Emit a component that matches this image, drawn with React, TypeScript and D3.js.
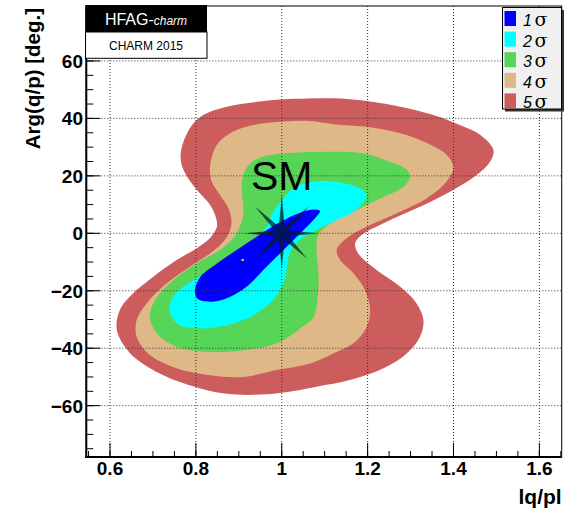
import React from "react";
import * as d3 from "d3";

// ---------- data ----------
const X_TICKS = [0.6, 0.8, 1, 1.2, 1.4, 1.6];
const X_TICK_LABELS = ["0.6", "0.8", "1", "1.2", "1.4", "1.6"];
const Y_TICKS = [-60, -40, -20, 0, 20, 40, 60];
const Y_TICK_LABELS = ["\u221260", "\u221240", "\u221220", "0", "20", "40", "60"];
const X_MINOR = d3.range(0.55, 1.651, 0.05);
const Y_MINOR = d3.range(-75, 76, 5);

const SIGMA_LABELS = ["1", "2", "3", "4", "5"];
const SIGMA_COLORS = ["#0000ff", "#00ffff", "#57d557", "#deb887", "#cd5c5c"];

// contour boundaries [|q/p|, Arg(q/p) deg]
const SIGMA5: [number, number][] = [
  [0.765, 28.4], [0.786, 36.6], [0.817, 41.2], [0.872, 44.1], [0.949, 45.9], [1.027, 46.8],
  [1.12, 47.0], [1.198, 46.1], [1.276, 44.1], [1.353, 41.2], [1.415, 37.7], [1.462, 34.3],
  [1.493, 29.0], [1.485, 24.9], [1.454, 20.3], [1.392, 14.5], [1.314, 8.7], [1.237, 3.5],
  [1.186, -0.6], [1.171, -3.5], [1.178, -7.0], [1.221, -12.8], [1.276, -18.6], [1.314, -24.4],
  [1.33, -30.2], [1.322, -36.0], [1.291, -41.8], [1.237, -47.0], [1.159, -51.1], [1.081, -53.4],
  [0.996, -55.6], [0.903, -56.2], [0.833, -54.9], [0.763, -51.8], [0.716, -48.8], [0.647, -41.8],
  [0.616, -33.7], [0.623, -26.7], [0.654, -20.9], [0.701, -15.1], [0.755, -9.3], [0.802, -5.2],
  [0.833, -1.6], [0.849, 2.3], [0.847, 5.3], [0.833, 9.9], [0.806, 14.5], [0.782, 19.2], [0.767, 23.8],
];
const SIGMA4: [number, number][] = [
  [0.833, 23.1], [0.849, 30.8], [0.887, 35.4], [0.934, 37.7], [1.004, 38.9], [1.066, 39.1],
  [1.12, 38.0], [1.198, 37.1], [1.276, 34.8], [1.338, 31.4], [1.384, 27.3], [1.4, 23.2],
  [1.384, 18.0], [1.338, 12.2], [1.276, 7.5], [1.198, 2.3], [1.151, -1.7], [1.128, -5.8],
  [1.136, -9.3], [1.167, -13.9], [1.194, -19.8], [1.206, -26.7], [1.198, -32.5], [1.167, -38.3],
  [1.12, -41.8], [1.066, -45.3], [0.988, -47.6], [0.911, -50.0], [0.833, -49.4], [0.755, -47.0],
  [0.693, -42.4], [0.662, -36.0], [0.662, -30.2], [0.685, -24.4], [0.732, -17.4], [0.786, -11.6],
  [0.833, -7.0], [0.861, -3.4], [0.877, 0.1], [0.883, 4.0], [0.876, 8.7], [0.856, 13.3], [0.837, 18.0],
];
const SIGMA3: [number, number][] = [
  [0.907, 17.5], [0.918, 22.8], [0.942, 25.9], [0.988, 27.5], [1.074, 28.3], [1.19, 27.8],
  [1.252, 24.9], [1.291, 22.1], [1.299, 19.7], [1.283, 16.1], [1.237, 12.6], [1.182, 8.7],
  [1.12, 4.0], [1.085, -0.6], [1.081, -5.8], [1.085, -12.8], [1.085, -19.8], [1.074, -29.1],
  [1.043, -33.1], [0.988, -38.3], [0.911, -40.7], [0.833, -41.3], [0.755, -39.5], [0.709, -34.8],
  [0.693, -29.1], [0.705, -23.2], [0.747, -16.3], [0.802, -10.5], [0.856, -5.8], [0.887, -1.6],
  [0.903, 2.5], [0.911, 7.1], [0.909, 11.6],
];
const SIGMA2: [number, number][] = [
  [1.043, 16.8], [1.081, 18.1], [1.136, 17.7], [1.182, 15.7], [1.198, 13.2], [1.189, 10.6],
  [1.167, 7.5], [1.12, 4.0], [1.074, 0.6], [1.036, -3.0], [1.017, -7.6], [1.012, -12.1],
  [1.004, -17.4], [0.98, -23.2], [0.934, -28.5], [0.872, -32.0], [0.81, -33.1], [0.763, -32.0],
  [0.74, -27.9], [0.74, -24.3], [0.758, -20.1], [0.794, -16.3], [0.849, -11.6], [0.903, -6.5],
  [0.942, -2.0], [0.965, 2.5], [0.98, 7.5], [1.004, 12.2], [1.022, 15.1],
];
const SIGMA1: [number, number][] = [
  [1.089, 7.8], [1.08, 5.7], [1.043, 0.0], [0.996, -7.0], [0.957, -12.8], [0.918, -18.6],
  [0.872, -22.6], [0.833, -23.8], [0.803, -22.7], [0.798, -19.8], [0.81, -15.2], [0.849, -10.5],
  [0.895, -5.8], [0.934, -2.0], [0.996, 3.9], [1.043, 7.2], [1.074, 8.3],
];
const CONTOURS = [SIGMA5, SIGMA4, SIGMA3, SIGMA2, SIGMA1];
const CONTOUR_COLORS = ["#cd5c5c", "#deb887", "#57d557", "#00ffff", "#0000ff"];

const SM_POINT: [number, number] = [1, 0];
const BEST_FIT: [number, number] = [0.909, -9.3];

// ---------- layout ----------
const W = 568, H = 518;
const FL = 86.3, FR = 561.7, FT = 6, FB = 457;
const FONT = "'Liberation Sans', Arial, Helvetica, sans-serif";

export default function App() {
  const x = d3.scaleLinear().domain([0.5448, 1.652]).range([FL, FR]);
  const y = d3.scaleLinear().domain([-77.87, 79.13]).range([FB, FT]);
  const line = d3
    .line<[number, number]>()
    .x((d) => x(d[0]))
    .y((d) => y(d[1]))
    .curve(d3.curveCatmullRomClosed.alpha(0.5));

  const cx = x(SM_POINT[0]), cy = y(SM_POINT[1]);
  const outer = [38, 38, 36, 36, 35, 36, 37, 38];
  const starPts: string[] = [];
  for (let i = 0; i < 16; i++) {
    const a = (i * Math.PI) / 8 - Math.PI / 2;
    const r = i % 2 === 0 ? outer[i / 2] : 7.5;
    starPts.push(`${cx + r * Math.cos(a)},${cy + r * Math.sin(a)}`);
  }

  return (
    <svg
      width={W}
      height={H}
      style={{ position: "absolute", left: 0, top: 0, background: "#fff" }}
      fontFamily={FONT}
    >
      <rect x={0} y={0} width={W} height={H} fill="#fff" />
      {CONTOURS.map((c, i) => (
        <path key={i} d={line(c) || ""} fill={CONTOUR_COLORS[i]} stroke="none" />
      ))}
      <rect x={x(BEST_FIT[0]) - 1} y={y(BEST_FIT[1]) - 1} width={2} height={2} fill="#ffff00" />

      {/* grid */}
      {X_TICKS.map((t) => (
        <line key={"gx" + t} x1={x(t)} x2={x(t)} y1={FT} y2={FB} stroke="#333" strokeWidth={1} strokeDasharray="1,2" />
      ))}
      {Y_TICKS.map((t) => (
        <line key={"gy" + t} x1={FL} x2={FR} y1={y(t)} y2={y(t)} stroke="#333" strokeWidth={1} strokeDasharray="1,2" />
      ))}

      {/* SM star */}
      <polygon points={starPts.join(" ")} fill="#001a22" fillOpacity={0.72} />
      <text x={cx} y={190} fontSize={41} textAnchor="middle" fill="#000">SM</text>

      {/* frame */}
      <rect x={FL} y={FT} width={FR - FL} height={FB - FT} fill="none" stroke="#000" strokeWidth={1} />
      <line x1={FL} x2={FL} y1={FT} y2={FB + 1} stroke="#000" strokeWidth={2} />
      <line x1={FL - 1} x2={FR} y1={FB} y2={FB} stroke="#000" strokeWidth={2} />

      {/* ticks */}
      {X_TICKS.map((t) => (
        <line key={"tx" + t} x1={x(t)} x2={x(t)} y1={FB} y2={FB - 14} stroke="#000" strokeWidth={1} />
      ))}
      {X_MINOR.map((t, i) => (
        <line key={"mx" + i} x1={x(t)} x2={x(t)} y1={FB} y2={FB - 6} stroke="#000" strokeWidth={1} />
      ))}
      {Y_TICKS.map((t) => (
        <line key={"ty" + t} x1={FL} x2={FL + 14} y1={y(t)} y2={y(t)} stroke="#000" strokeWidth={1} />
      ))}
      {Y_MINOR.map((t, i) => (
        <line key={"my" + i} x1={FL} x2={FL + 7} y1={y(t)} y2={y(t)} stroke="#000" strokeWidth={1} />
      ))}

      {/* tick labels */}
      {X_TICKS.map((t, i) => (
        <text key={"lx" + t} x={x(t)} y={474.5} fontSize={19} fontWeight="bold" textAnchor="middle">
          {X_TICK_LABELS[i]}
        </text>
      ))}
      {Y_TICKS.map((t, i) => (
        <text key={"ly" + t} x={83} y={y(t) + 7} fontSize={19} fontWeight="bold" textAnchor="end">
          {Y_TICK_LABELS[i]}
        </text>
      ))}

      {/* axis titles */}
      <text x={561.7} y={503.5} fontSize={21} fontWeight="bold" textAnchor="end">lq/pl</text>
      <text transform="translate(39.5,8) rotate(-90)" fontSize={20.5} fontWeight="bold" textAnchor="end">
        Arg(q/p) [deg.]
      </text>

      {/* HFAG box */}
      <rect x={85.5} y={5} width={121.5} height={27} fill="#000" />
      <rect x={85.5} y={32} width={121.5} height={26.3} fill="#fff" stroke="#000" strokeWidth={1} />
      <text x={146} y={25} fontSize={16} fill="#fff" textAnchor="middle">
        HFAG-<tspan fontStyle="italic" fontSize={12}>charm</tspan>
      </text>
      <text x={146} y={50} fontSize={12} textAnchor="middle">CHARM 2015</text>

      {/* legend */}
      <rect x={505} y={10} width={59} height={101.5} fill="#333" />
      <rect x={502.5} y={7.5} width={59} height={101.5} fill="#f0f0f0" stroke="#000" strokeWidth={1} />
      {SIGMA_LABELS.map((s, i) => (
        <g key={"leg" + s}>
          <rect x={504.5} y={11 + 20.6 * i} width={11.5} height={15} fill={SIGMA_COLORS[i]} />
          <text x={523} y={26 + 20.6 * i} fontSize={16} fontStyle="italic">{s}</text>
          <text x={534.5} y={26 + 20.6 * i} fontSize={19} fontFamily="'DejaVu Serif', serif">σ</text>
        </g>
      ))}
    </svg>
  );
}
